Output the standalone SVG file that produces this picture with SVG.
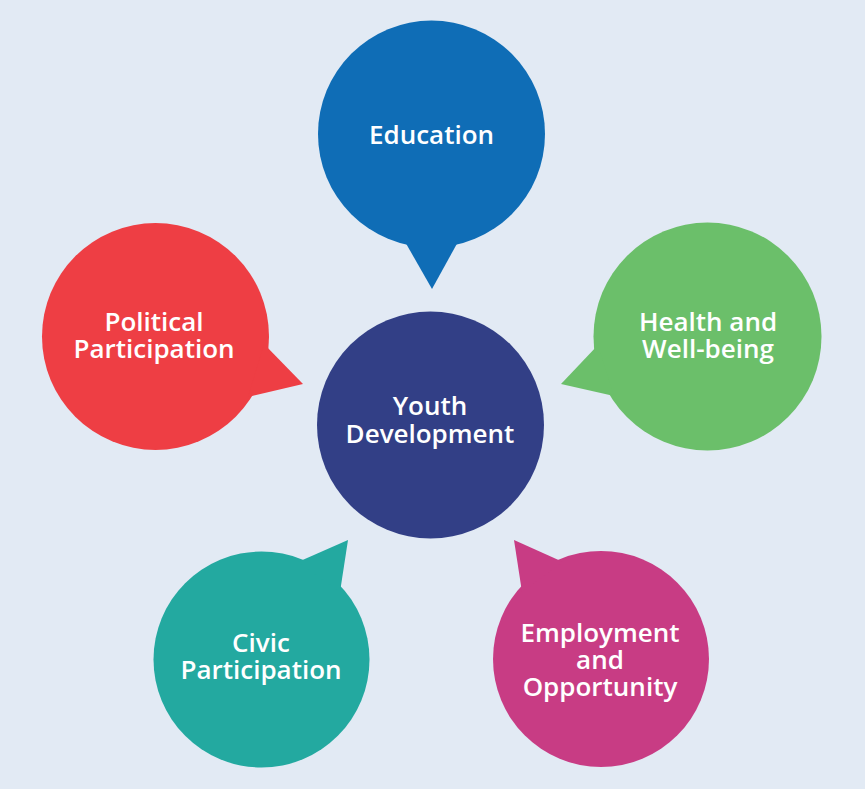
<svg xmlns="http://www.w3.org/2000/svg" width="865" height="789" viewBox="0 0 865 789">
<style>
.t{font-family:"Open Sans","Liberation Sans",sans-serif;font-weight:600;font-size:26px;fill:#fff;text-anchor:middle}
</style>
<rect width="865" height="789" fill="#E2EAF4"/>
<g id="connectors"></g>
<g id="education" fill="#0F6DB6">
<circle cx="431.5" cy="134" r="113.5"/>
<polygon points="404,240 459,240 432,289"/>
<text class="t" x="431.5" y="144">Education</text>
</g>
<g id="health" fill="#6BBF6A">
<circle cx="707.5" cy="336.5" r="114"/>
<polygon points="598,345 561,384 614,396"/>
<text class="t" x="708" y="331">Health and</text>
<text class="t" x="708" y="358">Well-being</text>
</g>
<g id="political" fill="#EE3E44">
<circle cx="155.5" cy="336.5" r="113.5"/>
<polygon points="264,344 303,384 248,397"/>
<text class="t" x="154" y="331">Political</text>
<text class="t" x="154" y="358">Participation</text>
</g>
<g id="civic" fill="#23A9A0">
<circle cx="261.5" cy="659.5" r="108"/>
<polygon points="298,562 348,540 340,592"/>
<text class="t" x="261" y="652">Civic</text>
<text class="t" x="261" y="679">Participation</text>
</g>
<g id="employment" fill="#C83C84">
<circle cx="601" cy="659" r="108"/>
<polygon points="563,562 514,540 522,592"/>
<text class="t" x="600" y="642">Employment</text>
<text class="t" x="600" y="669">and</text>
<text class="t" x="600" y="696">Opportunity</text>
</g>
<g id="youth" fill="#323F86">
<circle cx="430.5" cy="425" r="113.5"/>
<text class="t" x="430" y="415">Youth</text>
<text class="t" x="430" y="443">Development</text>
</g>
</svg>
